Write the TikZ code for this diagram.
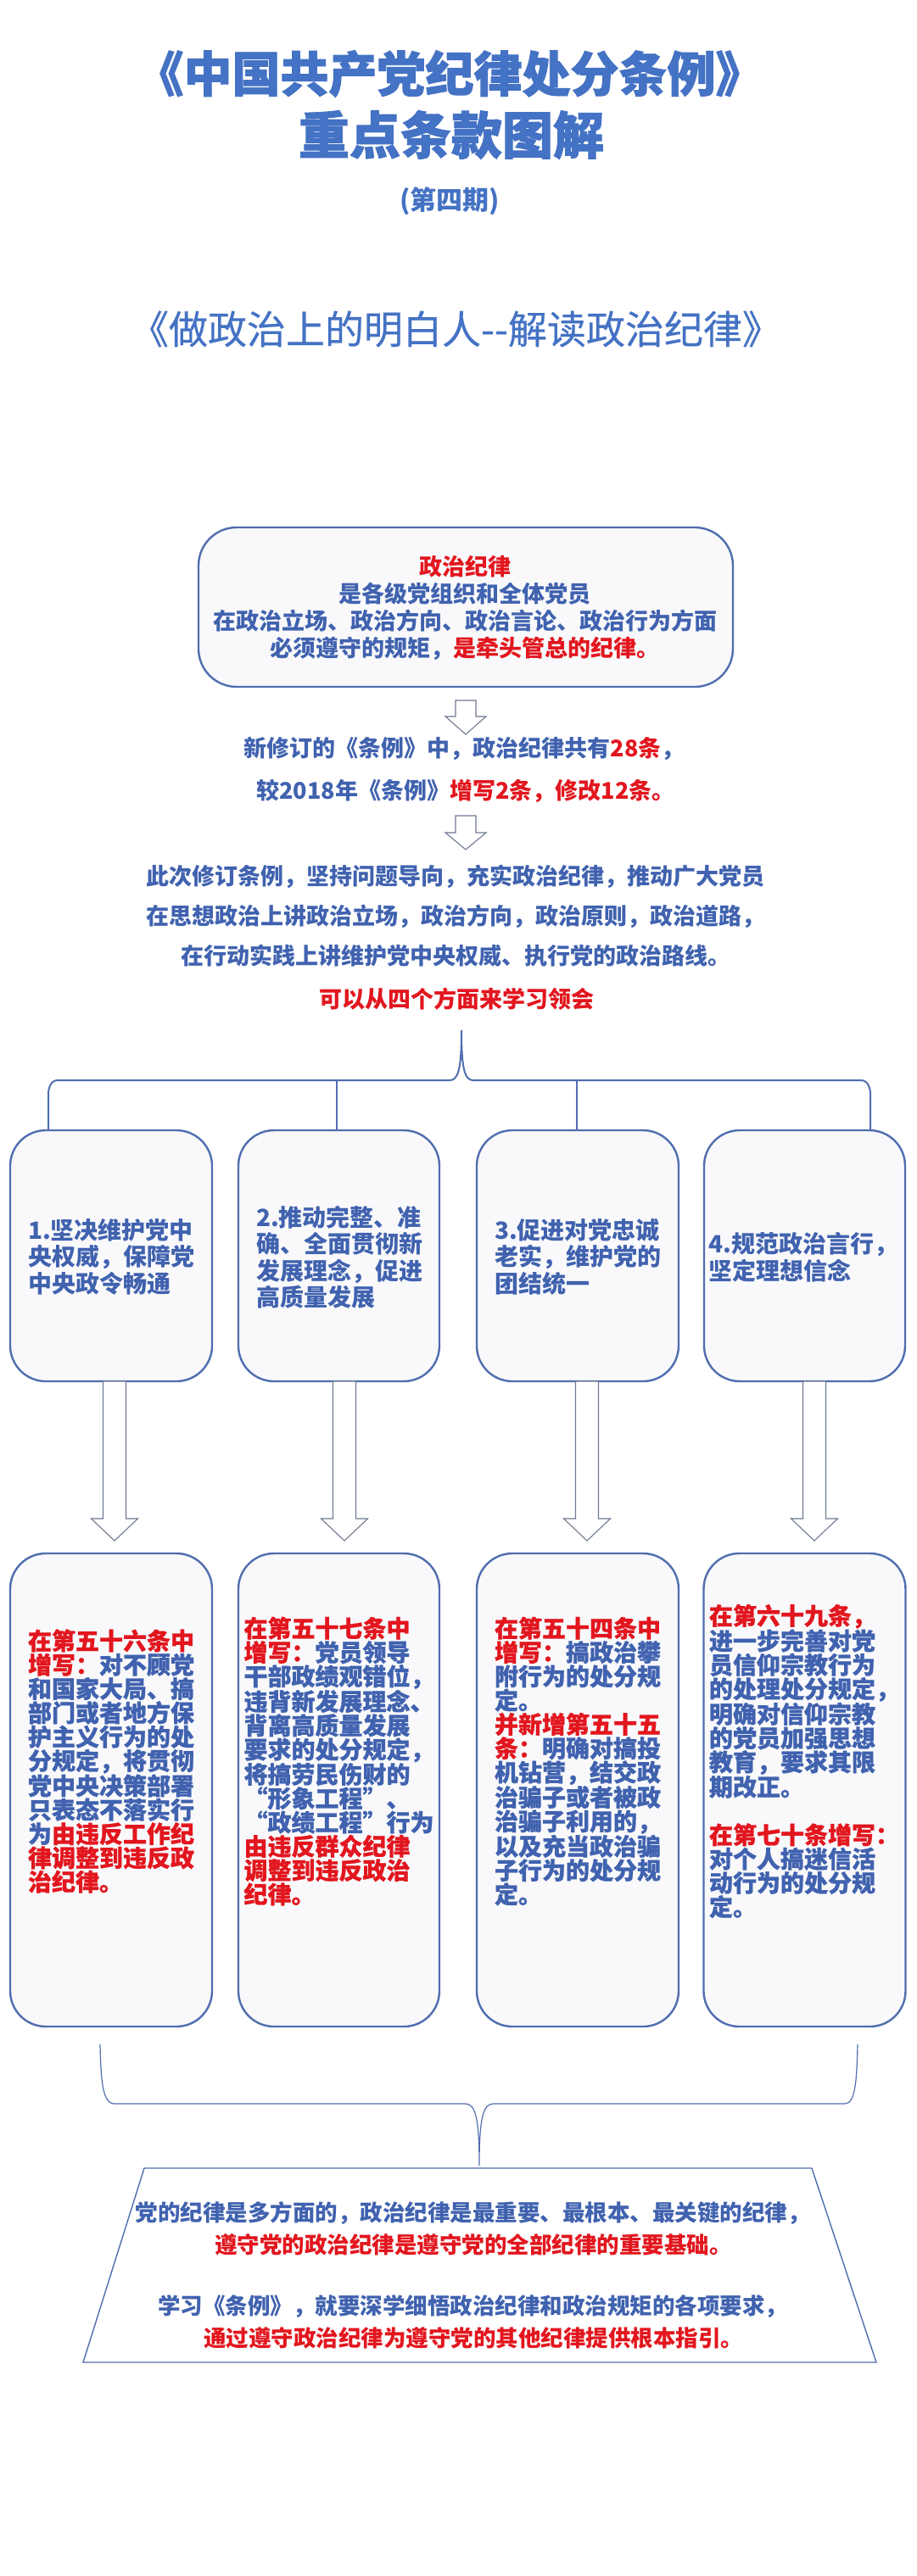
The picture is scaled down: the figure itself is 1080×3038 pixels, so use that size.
\documentclass[tikz,border=0pt]{standalone}
\usepackage{fontspec}
\setmainfont{Noto Sans CJK SC}
\newfontfamily\titlefont{Noto Sans CJK SC}[BoldFeatures={FakeBold=1.6}]
\newfontfamily\heavyfont{Noto Sans CJK SC}[BoldFeatures={FakeBold=0.8}]
\newfontfamily\subfont{Noto Sans CJK SC}[Ligatures=NoCommon, FakeBold=0.4]
\usetikzlibrary{calc}
\definecolor{tblue}{RGB}{68,114,196}
\definecolor{bblue}{RGB}{64,98,175}
\definecolor{dred}{RGB}{226,22,30}
\definecolor{lineblue}{RGB}{80,110,175}
\definecolor{boxfill}{RGB}{249,249,251}
\definecolor{arrowgray}{RGB}{110,120,145}
\newcommand\R[1]{\textcolor{dred}{#1}}
\newcommand\blockarrow[7]{\draw[barrow] (#2-#5,#3) -- (#2-#5,#4) -- (#2-#6,#4) -- (#2,#7) -- (#2+#6,#4) -- (#2+#5,#4) -- (#2+#5,#3) -- cycle;}
\begin{document}
\begin{tikzpicture}[x=1pt,y=-1pt,
  rbox/.style={draw=lineblue, line width=2.4pt, fill=boxfill, rounded corners=42pt, inner sep=0pt},
  brace/.style={draw=lineblue, line width=2pt},
  thinbrace/.style={draw=lineblue, line width=1.2pt},
  barrow/.style={draw=arrowgray, line width=1.1pt, fill=white, line join=miter},
  body/.style={text=bblue, font=\fontsize{27}{32.3}\selectfont\bfseries, align=center, inner sep=0pt},
  para/.style={text=bblue, font=\fontsize{27}{47}\selectfont\bfseries, align=center, inner sep=0pt},
  trap/.style={text=bblue, font=\fontsize{26.5}{30}\selectfont\bfseries, inner sep=0pt},
  boxtext/.style={text=bblue, font=\fontsize{28}{31.5}\selectfont\bfseries, align=left, inner sep=0pt},
  cardtext/.style={text=bblue, font=\heavyfont\fontsize{28}{28.3}\selectfont\bfseries, align=left, inner sep=0pt}]
\fill[white] (0,0) rectangle (1080,3038);
\path[use as bounding box] (0,0) rectangle (1080,3038);

% titles
\node[text=tblue, font=\titlefont\fontsize{57}{60}\selectfont\bfseries, inner sep=0pt] (title1) at (530,87) {《中国共产党纪律处分条例》};
\node[text=tblue, font=\titlefont\fontsize{60}{64}\selectfont\bfseries, inner sep=0pt] (title2) at (532,159) {重点条款图解};
\node[text=tblue, font=\fontsize{31}{34}\selectfont\bfseries, inner sep=0pt] (issue) at (530,237) {(第四期)};
\node[text=tblue, font=\subfont\fontsize{46}{50}\selectfont, inner sep=0pt] (subtitle) at (537,388) {《做政治上的明白人\mbox{-}\mbox{-}解读政治纪律》};

% top box
\node[rbox, rounded corners=45pt, minimum width=630pt, minimum height=188pt] (topbox) at (549,716) {};
\node[body] (toptext) at (548,717) {\R{政治纪律}\\是各级党组织和全体党员\\在政治立场、政治方向、政治言论、政治行为方面\\必须遵守的规矩，\R{是牵头管总的纪律。}};

\blockarrow{a1}{549}{826}{845}{12}{24}{866}
\node[body] (lineA) at (547,883) {新修订的《条例》中，政治纪律共有\R{28条}，};
\node[body] (lineB) at (549,933) {较2018年《条例》\R{增写2条，修改12条。}};
\blockarrow{a2}{549}{962}{982}{12}{24}{1002}
\node[para] (parag) at (537,1080) {此次修订条例，坚持问题导向，充实政治纪律，推动广大党员\\在思想政治上讲政治立场，政治方向，政治原则，政治道路，\\在行动实践上讲维护党中央权威、执行党的政治路线。};
\node[body, text=dred] (learn) at (538,1178) {可以从四个方面来学习领会};

% brace 1
\coordinate (tip1) at (544,1215);
\draw[brace] (57,1333) -- (57,1290) to[out=90,in=180] (68,1274) -- (530,1274) .. controls (540,1274) and (544,1262) .. (tip1) .. controls (544,1262) and (548,1274) .. (558,1274) -- (1015,1274) to[out=0,in=90] (1026,1290) -- (1026,1333);
\draw[brace] (397,1274) -- (397,1333);
\draw[brace] (680,1274) -- (680,1333);

% row 1 boxes
\node[rbox, minimum width=238pt, minimum height=296pt] (p1) at (131,1481) {};
\node[rbox, minimum width=237pt, minimum height=296pt] (p2) at (399.5,1481) {};
\node[rbox, minimum width=238pt, minimum height=296pt] (p3) at (681,1481) {};
\node[rbox, minimum width=237pt, minimum height=296pt] (p4) at (948.5,1481) {};
\node[boxtext] (pt1) at (131,1482) {1.坚决维护党中\\央权威，保障党\\中央政令畅通};
\node[boxtext] (pt2) at (400,1483) {2.推动完整、准\\确、全面贯彻新\\发展理念，促进\\高质量发展};
\node[boxtext] (pt3) at (681,1482) {3.促进对党忠诚\\老实，维护党的\\团结统一};
\node[boxtext] (pt4) at (947,1483) {4.规范政治言行，\\坚定理想信念};

% arrows row1 -> row2
\blockarrow{r1}{135}{1629}{1791}{13.5}{27.5}{1817}
\blockarrow{r2}{406}{1629}{1791}{13.5}{27.5}{1817}
\blockarrow{r3}{692}{1629}{1791}{13.5}{27.5}{1817}
\blockarrow{r4}{960}{1629}{1791}{13.5}{27.5}{1817}

% row 2 boxes
\node[rbox, minimum width=238pt, minimum height=558pt] (q1) at (131,2111) {};
\node[rbox, minimum width=237pt, minimum height=558pt] (q2) at (399.5,2111) {};
\node[rbox, minimum width=238pt, minimum height=558pt] (q3) at (681,2111) {};
\node[rbox, minimum width=238pt, minimum height=558pt] (q4) at (948.5,2111) {};
\node[cardtext] (qt1) at (131,2077) {\R{在第五十六条中}\\\R{增写：}对不顾党\\和国家大局、搞\\部门或者地方保\\护主义行为的处\\分规定，将贯彻\\党中央决策部署\\只表态不落实行\\为\R{由违反工作纪}\\\R{律调整到违反政}\\\R{治纪律。}};
\node[cardtext] (qt2) at (399.5,2077) {\R{在第五十七条中}\\\R{增写：}党员领导\\干部政绩观错位，\\违背新发展理念、\\背离高质量发展\\要求的处分规定，\\将搞劳民伤财的\\\makebox[196pt][l]{“\hfill 形\hfill 象\hfill 工\hfill 程\hfill ”\hfill 、}\\“政绩工程”行为\\\R{由违反群众纪律}\\\R{调整到违反政治}\\\R{纪律。}};
\node[cardtext] (qt3) at (681,2077) {\R{在第五十四条中}\\\R{增写：}搞政治攀\\附行为的处分规\\定。\\\R{并新增第五十五}\\\R{条：}明确对搞投\\机钻营，结交政\\治骗子或者被政\\治骗子利用的，\\以及充当政治骗\\子行为的处分规\\定。};
\node[cardtext] (qt4) at (948,2077) {\R{在第六十九条，}\\进一步完善对党\\员信仰宗教行为\\的处理处分规定，\\明确对信仰宗教\\的党员加强思想\\教育，要求其限\\期改正。\\[28.3pt]\R{在第七十条增写：}\\对个人搞迷信活\\动行为的处分规\\定。};

% brace 2
\coordinate (tip2) at (565,2554);
\draw[thinbrace] (118,2411) .. controls (119,2450) and (120,2481) .. (135,2481) -- (548,2481) .. controls (560,2481) and (565,2495) .. (tip2) .. controls (565,2495) and (570,2481) .. (582,2481) -- (996,2481) .. controls (1009,2481) and (1010,2450) .. (1011,2411);

% trapezoid
\draw[draw=lineblue, line width=1.4pt, fill=white] (170,2557) -- (957,2557) -- (1033,2786) -- (98,2786) -- cycle;
\node[trap] (s1) at (557,2610) {党的纪律是多方面的，政治纪律是最重要、最根本、最关键的纪律，};
\node[trap, text=dred] (s2) at (558,2647) {遵守党的政治纪律是遵守党的全部纪律的重要基础。};
\node[trap] (s3) at (557,2720) {学习《条例》，就要深学细悟政治纪律和政治规矩的各项要求，};
\node[trap, text=dred] (s4) at (558,2757) {通过遵守政治纪律为遵守党的其他纪律提供根本指引。};
\end{tikzpicture}
\end{document}
